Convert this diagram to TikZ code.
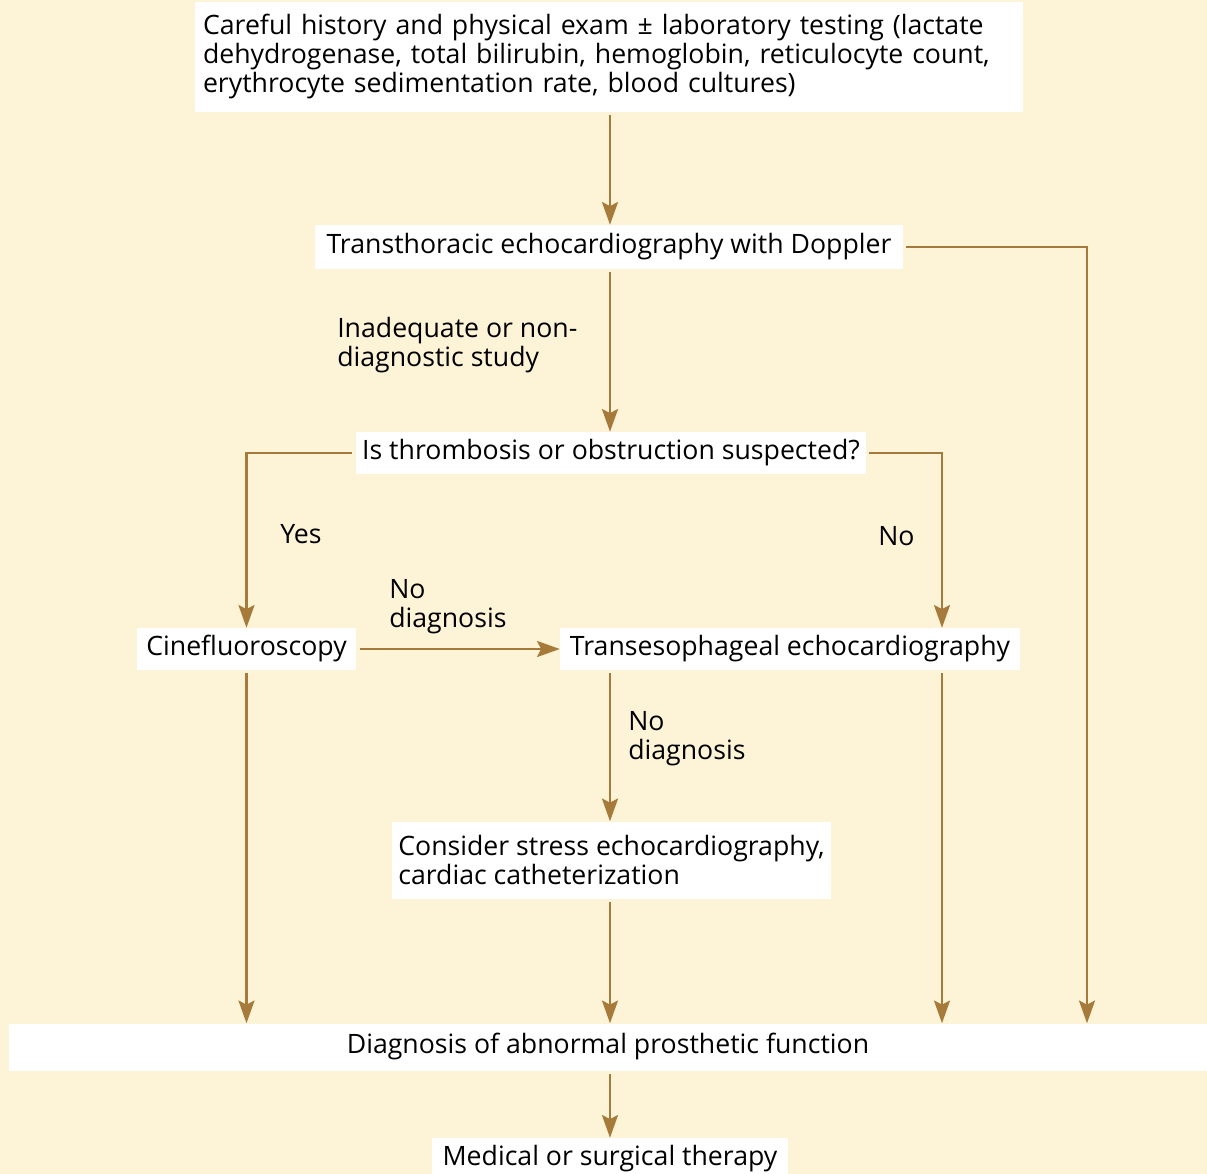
\documentclass[tikz,border=0pt]{standalone}
\usepackage{fontspec}
\setmainfont{Open Sans}
\usetikzlibrary{arrows.meta}
\definecolor{bg}{HTML}{FDF3D7}
\definecolor{arr}{HTML}{A67A3A}
\newcommand{\fs}{\fontsize{20pt}{21.75pt}\selectfont}
\begin{document}
\begin{tikzpicture}[x=0.75pt,y=-0.75pt,
  box/.style={fill=white, inner sep=0pt, font=\fs, text height=14.5pt, text depth=4.5pt},
  lbl/.style={inner sep=0pt, font=\fs, align=left, anchor=west},
  conn/.style={draw=arr, line width=1.7pt, shorten <=2.25pt, -{Stealth[length=17pt,width=12pt,inset=3pt]}}]
\fill[bg] (0,0) rectangle (1207,1174);
\useasboundingbox (0,0) rectangle (1207,1174);
\clip (0,0) rectangle (1207,1174);
\coordinate (c610) at (610,0);
\coordinate (c942) at (942,0);
\coordinate (c1087) at (1087,0);

\node[box, minimum width=621pt, minimum height=82.5pt, text width=609pt, align=left, text height=, text depth=] (top) at (609,57)
  {Careful history and physical exam ± laboratory testing (lactate\\dehydrogenase, total bilirubin, hemoglobin, reticulocyte count,\\erythrocyte sedimentation rate, blood cultures)};
\node[box, minimum width=441pt, minimum height=33pt] (tte) at (609,247) {Transthoracic echocardiography with Doppler};
\node[box, minimum width=382.5pt, minimum height=31.5pt] (q) at (611,453) {Is thrombosis or obstruction suspected?};
\node[box, minimum width=164.25pt, minimum height=31.5pt] (cine) at (246.5,649) {Cinefluoroscopy};
\node[box, minimum width=345pt, minimum height=31.5pt] (tee) at (790,649) {Transesophageal echocardiography};
\node[box, minimum width=329.25pt, minimum height=57.75pt, align=left, text height=, text depth=] (cons) at (611.5,860)
  {Consider stress echocardiography,\\cardiac catheterization};
\node[box, minimum width=898.5pt, minimum height=35.25pt] (diag) at (608,1047) {Diagnosis of abnormal prosthetic function};
\node[box, minimum width=267pt, minimum height=31.5pt] (ther) at (610,1159) {Medical or surgical therapy};

\node[lbl] (l1) at (337,345) {Inadequate or non-\\diagnostic study};
\node[lbl] (l2) at (280,534) {Yes};
\node[lbl] (l3) at (878,536) {No};
\node[lbl] (l4) at (389,607) {No\\diagnosis};
\node[lbl] (l5) at (628,739) {No\\diagnosis};

\draw[conn] (top.south -| c610) -- (c610 |- tte.north);
\draw[conn] (tte.east) -- (tte.east -| c1087) -- (c1087 |- diag.north);
\draw[conn] (tte.south -| c610) -- (c610 |- q.north);
\draw[conn, shorten <=3pt] (q.west) -| (cine.north);
\draw[conn] (q.east) -| (c942 |- tee.north);
\draw[conn, shorten <=3pt] (cine.east) -- (tee.west);
\draw[conn] (tee.south -| c610) -- (c610 |- cons.north);
\draw[conn] (cons.south -| c610) -- (c610 |- diag.north);
\draw[conn] (cine.south) -- (cine.south |- diag.north);
\draw[conn] (tee.south -| c942) -- (c942 |- diag.north);
\draw[conn] (diag.south -| c610) -- (c610 |- ther.north);
\end{tikzpicture}
\end{document}
